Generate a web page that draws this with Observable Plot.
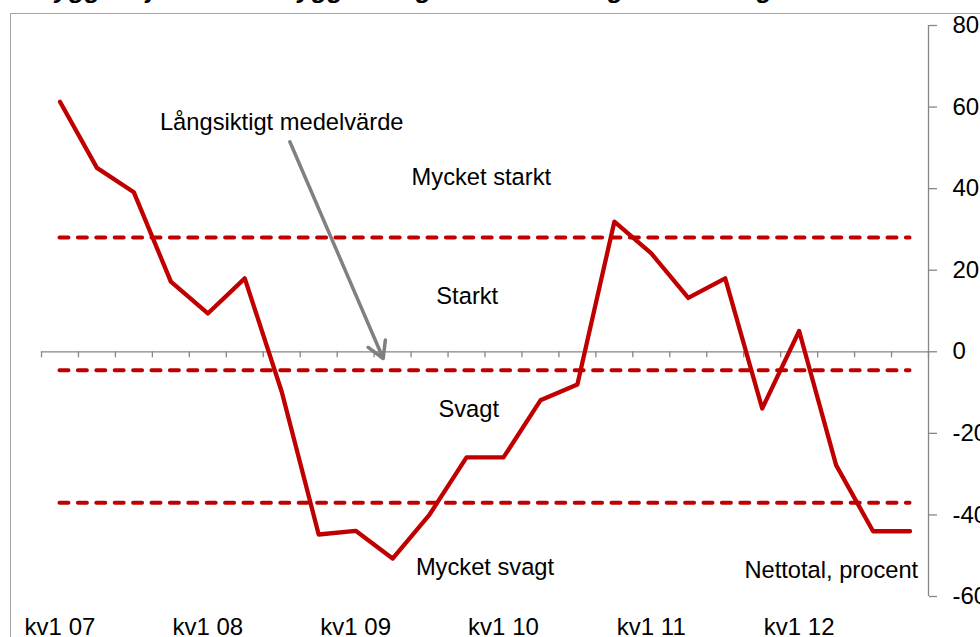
<!DOCTYPE html>
<html><head><meta charset="utf-8">
<script src="https://cdn.jsdelivr.net/npm/d3@7"></script>
<script src="https://cdn.jsdelivr.net/npm/@observablehq/plot@0.6"></script>
<style>
body{margin:0;background:#fff;overflow:hidden;width:980px;height:637px;position:relative;font-family:"Liberation Sans",Arial,sans-serif;}
#chart{position:absolute;left:0;top:0;}
#frame{position:absolute;left:10px;top:13px;width:1000px;height:700px;border-left:1.3px solid #a6a6a6;border-top:1.3px solid #a6a6a6;pointer-events:none;}
#title{position:absolute;left:36px;top:-24px;font:italic bold 26px "Liberation Sans",Arial,sans-serif;white-space:nowrap;line-height:26px;color:#000;}
</style></head><body>
<div id="title">Byggkonjunkturen: byggföretagens bedömning av efterfrågan</div>
<div id="chart"></div>
<div id="frame"></div>
<script>
const quarters = ["kv1 07","kv2 07","kv3 07","kv4 07","kv1 08","kv2 08","kv3 08","kv4 08",
  "kv1 09","kv2 09","kv3 09","kv4 09","kv1 10","kv2 10","kv3 10","kv4 10",
  "kv1 11","kv2 11","kv3 11","kv4 11","kv1 12","kv2 12","kv3 12","kv4 12"];
const values = [61.3,45.1,39.1,17.2,9.4,18.0,-9.8,-44.8,-43.9,-50.7,-39.9,-25.9,-25.9,-11.9,-8.0,31.9,24.1,13.2,18.0,-13.9,5.1,-27.8,-44.0,-44.0];
const levels = [28, -4.5, -37];
const yTicks = [-60,-40,-20,0,20,40,60,80];
const zoneLabels = ["Mycket starkt","Starkt","Svagt","Mycket svagt"];
const zoneX = [11.4, 11.02, 11.06, 11.5];
const zoneY = [41.0, 11.7, -16.0, -54.8];
const noteLabels = ["Långsiktigt medelvärde","Nettotal, procent"];
const noteX = [6.0, 20.87];
const noteY = [54.4, -55.4];
const arrowFrom = {x: 6.22, y: 51.5};
const arrowTo = {x: 8.745, y: -1.64};

const n = quarters.length;
const data = quarters.map((q, i) => ({i, q, v: values[i]}));
const boundaries = d3.range(n + 1).map(k => k - 0.5);
const labelIdx = d3.range(n).filter(i => i % 4 === 0);
const annotations = zoneLabels.map((t, i) => ({t, x: zoneX[i], y: zoneY[i]}))
  .concat(noteLabels.map((t, i) => ({t, x: noteX[i], y: noteY[i]})));

const grey = "#868686";
const red = "#C00000";

const chart = Plot.plot({
  width: 980, height: 637,
  marginLeft: 41, marginRight: 52, marginTop: 25, marginBottom: 41,
  x: {domain: [-0.5, n - 0.5]},
  y: {domain: [-60, 80]},
  style: {fontFamily: "'Liberation Sans', Arial, sans-serif", color: "#000", background: "transparent"},
  marks: [
    Plot.ruleY([0], {x1: -0.5, x2: n - 0.5, stroke: grey, strokeWidth: 1.3}),
    Plot.ruleX(boundaries, {x: d => d, y1: 0, y2: 0, insetBottom: -6, stroke: grey, strokeWidth: 1.3}),
    Plot.ruleX([n - 0.5], {stroke: grey, strokeWidth: 1.3}),
    Plot.axisY({anchor: "right", ticks: yTicks, tickSize: 8, tickPadding: 16, tickFormat: d => String(d),
      fontSize: 24, stroke: grey, strokeWidth: 1.3, label: null}),
    Plot.axisX({anchor: "bottom", ticks: labelIdx, tickSize: 0, tickPadding: 21, tickFormat: i => quarters[i],
      fontSize: 24, label: null}),
    Plot.ruleY(levels, {x1: 0, x2: n - 1, stroke: red, strokeWidth: 4, strokeDasharray: "9 9.4", strokeLinecap: "round"}),
    Plot.line(data, {x: "i", y: "v", stroke: red, strokeWidth: 4.3, strokeLinejoin: "round", strokeLinecap: "round"}),
    Plot.arrow([{x1: arrowFrom.x, y1: arrowFrom.y, x2: arrowTo.x, y2: arrowTo.y}],
      {x1: "x1", y1: "y1", x2: "x2", y2: "y2", stroke: "#808080", strokeWidth: 3.5, headLength: 8, headAngle: 60}),
    Plot.text(annotations, {x: "x", y: "y", text: "t", fontSize: 23.7, lineAnchor: "bottom", fill: "#000"})
  ]
});
document.getElementById("chart").appendChild(chart);
</script>
</body></html>
